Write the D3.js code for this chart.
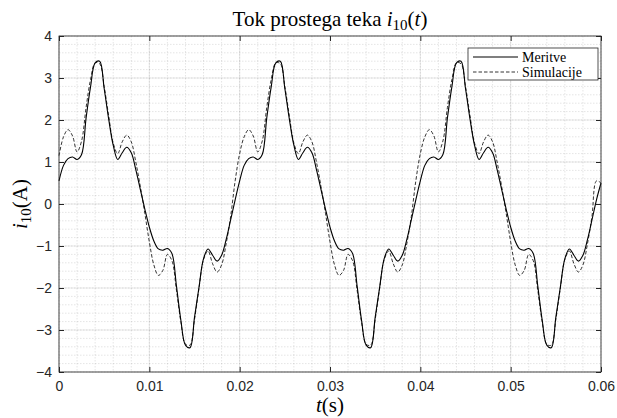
<!DOCTYPE html>
<html>
<head>
<meta charset="utf-8">
<script src="https://cdn.jsdelivr.net/npm/d3@7"></script>
<style>
  body { margin: 0; background: #fff; }
  .tick text { font-family: "Liberation Sans", Arial, sans-serif; font-size: 14px; fill: #262626; }
  .tick line { stroke: #262626; }
  .domain { display: none; }
  .latex { font-family: "Liberation Serif", "DejaVu Serif", serif; fill: #000; }
</style>
</head>
<body>
<div id="wrapper"></div>
<script>
// sample step of the traces (s)
const timeStep = 0.0005

// i10 measured (Meritve), one value per 0.5 ms, 0 .. 60 ms
const meritve = [
  0.55, 0.92, 1.08, 1.12, 1.06, 1.18, 2.05, 2.80, 3.36, 3.40, 2.75, 2.02, 1.40, 1.06, 1.22, 1.35, 1.22, 0.82, 0.35, -0.12,
  -0.55, -0.88, -1.07, -1.10, -1.06, -1.18, -1.95, -2.78, -3.36, -3.42, -2.70, -1.98, -1.30, -1.07, -1.22, -1.36, -1.22, -0.85, -0.38, 0.10,
  0.55, 0.92, 1.08, 1.12, 1.06, 1.18, 2.05, 2.80, 3.36, 3.40, 2.75, 2.02, 1.40, 1.06, 1.22, 1.35, 1.22, 0.82, 0.35, -0.12,
  -0.55, -0.88, -1.07, -1.10, -1.06, -1.18, -1.95, -2.78, -3.36, -3.42, -2.70, -1.98, -1.30, -1.07, -1.22, -1.36, -1.22, -0.85, -0.38, 0.10,
  0.55, 0.92, 1.08, 1.12, 1.06, 1.18, 2.05, 2.80, 3.36, 3.40, 2.75, 2.02, 1.40, 1.06, 1.22, 1.35, 1.22, 0.82, 0.35, -0.12,
  -0.55, -0.88, -1.07, -1.10, -1.06, -1.18, -1.95, -2.78, -3.36, -3.42, -2.70, -1.98, -1.30, -1.07, -1.22, -1.36, -1.22, -0.85, -0.38, 0.10,
  0.50,
]

// i10 simulated (Simulacije), same sampling
const simulacije = [
  1.15, 1.60, 1.77, 1.62, 1.24, 1.50, 2.30, 2.97, 3.36, 3.34, 2.80, 2.10, 1.45, 1.20, 1.48, 1.64, 1.48, 1.00, 0.42, -0.22,
  -0.90, -1.45, -1.70, -1.58, -1.20, -1.35, -2.05, -2.82, -3.34, -3.36, -2.75, -2.00, -1.32, -1.12, -1.42, -1.62, -1.45, -0.95, -0.30, 0.55,
  1.20, 1.60, 1.77, 1.62, 1.24, 1.50, 2.30, 2.97, 3.36, 3.34, 2.80, 2.10, 1.45, 1.20, 1.48, 1.64, 1.48, 1.00, 0.42, -0.22,
  -0.90, -1.45, -1.70, -1.58, -1.20, -1.35, -2.05, -2.82, -3.34, -3.36, -2.75, -2.00, -1.32, -1.12, -1.42, -1.62, -1.45, -0.95, -0.30, 0.55,
  1.20, 1.60, 1.77, 1.62, 1.24, 1.50, 2.30, 2.97, 3.36, 3.34, 2.80, 2.10, 1.45, 1.20, 1.48, 1.64, 1.48, 1.00, 0.42, -0.22,
  -0.90, -1.45, -1.70, -1.58, -1.20, -1.35, -2.05, -2.82, -3.34, -3.36, -2.75, -2.00, -1.32, -1.12, -1.42, -1.62, -1.45, -0.95, -0.30, 0.55,
  0.50,
]

const xTicks = [0, 0.01, 0.02, 0.03, 0.04, 0.05, 0.06]
const yTicks = [-4, -3, -2, -1, 0, 1, 2, 3, 4]
const legendLabels = ['Meritve', 'Simulacije']

function drawChart() {
    // 1. Dimensions
    let dimensions = {
        width: 617,
        height: 418,
        margin: { top: 36, right: 16, bottom: 46, left: 59 },
    }
    dimensions.boundedWidth = dimensions.width - dimensions.margin.left - dimensions.margin.right
    dimensions.boundedHeight = dimensions.height - dimensions.margin.top - dimensions.margin.bottom

    // 2. Canvas
    const wrapper = d3.select('#wrapper')
        .append('svg')
        .attr('width', dimensions.width)
        .attr('height', dimensions.height)
        .style('background', '#fff')

    const bounds = wrapper.append('g')
        .attr('transform', `translate(${dimensions.margin.left},${dimensions.margin.top})`)

    // 3. Scales
    const xScale = d3.scaleLinear().domain([0, 0.06]).range([0, dimensions.boundedWidth])
    const yScale = d3.scaleLinear().domain([-4, 4]).range([dimensions.boundedHeight, 0])

    // 4. Grid (minor dotted, major solid)
    const xMinor = d3.range(0, 0.0601, 0.002)
    const yMinor = d3.range(-4, 4.001, 0.2)
    const grid = bounds.append('g')
    grid.selectAll('.xminor').data(xMinor).join('line')
        .attr('x1', d => xScale(d)).attr('x2', d => xScale(d))
        .attr('y1', 0).attr('y2', dimensions.boundedHeight)
        .attr('stroke', '#262626').attr('stroke-opacity', 0.2)
        .attr('stroke-dasharray', '1.5,1.5').attr('stroke-width', 0.6)
    grid.selectAll('.yminor').data(yMinor).join('line')
        .attr('y1', d => yScale(d)).attr('y2', d => yScale(d))
        .attr('x1', 0).attr('x2', dimensions.boundedWidth)
        .attr('stroke', '#262626').attr('stroke-opacity', 0.2)
        .attr('stroke-dasharray', '1.5,1.5').attr('stroke-width', 0.6)
    grid.selectAll('.xmajor').data(xTicks).join('line')
        .attr('x1', d => xScale(d)).attr('x2', d => xScale(d))
        .attr('y1', 0).attr('y2', dimensions.boundedHeight)
        .attr('stroke', '#262626').attr('stroke-opacity', 0.15).attr('stroke-width', 0.7)
    grid.selectAll('.ymajor').data(yTicks).join('line')
        .attr('y1', d => yScale(d)).attr('y2', d => yScale(d))
        .attr('x1', 0).attr('x2', dimensions.boundedWidth)
        .attr('stroke', '#262626').attr('stroke-opacity', 0.15).attr('stroke-width', 0.7)

    // 5. Data
    const lineGenerator = d3.line()
        .x((d, i) => xScale(i * timeStep))
        .y(d => yScale(d))
        .curve(d3.curveCatmullRom.alpha(0.5))

    bounds.append('path')
        .datum(simulacije)
        .attr('d', lineGenerator)
        .attr('fill', 'none')
        .attr('stroke', '#000')
        .attr('stroke-width', 0.8)
        .attr('stroke-dasharray', '3.5,2')

    bounds.append('path')
        .datum(meritve)
        .attr('d', lineGenerator)
        .attr('fill', 'none')
        .attr('stroke', '#000')
        .attr('stroke-width', 1.1)

    // 6. Axes, inward ticks on all sides
    const fmt = d => d === 0 ? '0' : d3.format('.2~f')(d)
    bounds.append('g')
        .attr('transform', `translate(0,${dimensions.boundedHeight})`)
        .call(d3.axisBottom(xScale).tickValues(xTicks).tickFormat(fmt).tickSize(-5).tickPadding(9))
    bounds.append('g')
        .call(d3.axisTop(xScale).tickValues(xTicks).tickFormat('').tickSize(-5))
    bounds.append('g')
        .call(d3.axisLeft(yScale).tickValues(yTicks).tickFormat(d3.format('d')).tickSize(-5).tickPadding(7))
    bounds.append('g')
        .attr('transform', `translate(${dimensions.boundedWidth},0)`)
        .call(d3.axisRight(yScale).tickValues(yTicks).tickFormat('').tickSize(-5))

    bounds.append('rect')
        .attr('width', dimensions.boundedWidth)
        .attr('height', dimensions.boundedHeight)
        .attr('fill', 'none')
        .attr('stroke', '#262626')
        .attr('stroke-width', 0.8)

    // 7. Title and labels
    const title = wrapper.append('text')
        .attr('class', 'latex')
        .attr('x', dimensions.margin.left + dimensions.boundedWidth / 2)
        .attr('y', 26)
        .attr('text-anchor', 'middle')
        .style('font-size', '21px')
    title.append('tspan').text('Tok prostega teka ')
    title.append('tspan').attr('font-style', 'italic').text('i')
    title.append('tspan').attr('font-size', '15px').attr('dy', 4).text('10')
    title.append('tspan').attr('dy', -4).text('(')
    title.append('tspan').attr('font-style', 'italic').text('t')
    title.append('tspan').text(')')

    const xLabel = wrapper.append('text')
        .attr('class', 'latex')
        .attr('x', dimensions.margin.left + dimensions.boundedWidth / 2)
        .attr('y', 412)
        .attr('text-anchor', 'middle')
        .style('font-size', '21px')
    xLabel.append('tspan').attr('font-style', 'italic').text('t')
    xLabel.append('tspan').text('(s)')

    const yLabel = wrapper.append('text')
        .attr('class', 'latex')
        .attr('transform', `translate(27,${dimensions.margin.top + dimensions.boundedHeight / 2}) rotate(-90)`)
        .attr('text-anchor', 'middle')
        .style('font-size', '21px')
    yLabel.append('tspan').attr('font-style', 'italic').text('i')
    yLabel.append('tspan').attr('font-size', '15px').attr('dy', 4).text('10')
    yLabel.append('tspan').attr('dy', -4).text('(A)')

    // 8. Legend
    const legend = wrapper.append('g').attr('transform', 'translate(468,48)')
    legend.append('rect')
        .attr('width', 130).attr('height', 32)
        .attr('fill', '#fff')
        .attr('stroke', '#262626').attr('stroke-width', 0.8)
    const items = legend.selectAll('.item').data(legendLabels).join('g')
        .attr('transform', (d, i) => `translate(0,${9 + i * 15})`)
    items.append('line')
        .attr('x1', 5).attr('x2', 50)
        .attr('stroke', '#000')
        .attr('stroke-width', (d, i) => i === 0 ? 1.1 : 0.8)
        .attr('stroke-dasharray', (d, i) => i === 0 ? null : '3.5,2')
    items.append('text')
        .attr('class', 'latex')
        .attr('x', 54).attr('y', 4.5)
        .style('font-size', '14px')
        .text(d => d)
}
drawChart()
</script>
</body>
</html>
